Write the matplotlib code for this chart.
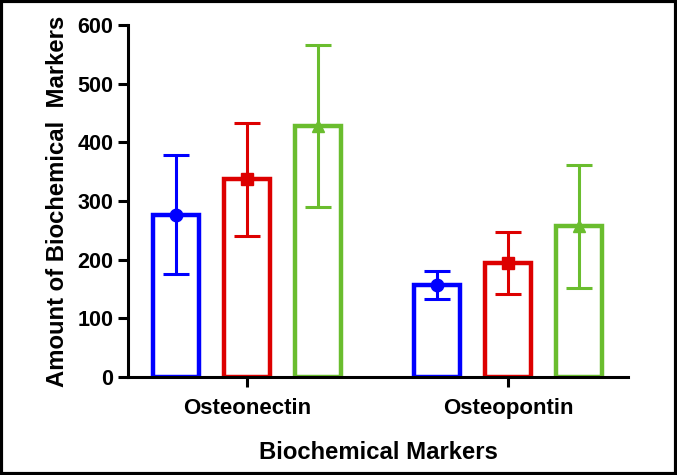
import matplotlib.pyplot as plt
import matplotlib.patches as mpatches
import numpy as np

plt.rcParams['font.family'] = ['Liberation Sans', 'DejaVu Sans']
plt.rcParams['font.weight'] = 'bold'

categories = ['Osteonectin', 'Osteopontin']
group_colors = ['#0000FF', '#DD0000', '#6ABD2E']
group_markers = ['o', 's', '^']
# one list per group: values for [Osteonectin, Osteopontin]
means = [[277, 157], [337, 194], [428, 257]]
errors = [[102, 24], [97, 53], [138, 105]]

fig = plt.figure(figsize=(6.77, 4.75), dpi=100)
ax = fig.add_axes([0.189, 0.206, 0.739, 0.741])

x = np.arange(len(categories))
offset = 0.272
width = 0.176
for i, (m, e) in enumerate(zip(means, errors)):
    pos = x + (i - 1) * offset
    ax.bar(pos, m, width=width, facecolor='none', edgecolor=group_colors[i],
           linewidth=3.2, zorder=2)
    ax.errorbar(pos, m, yerr=e, fmt=group_markers[i], color=group_colors[i],
                markersize=9, elinewidth=2.2, capsize=9.5, capthick=2.2, zorder=3)

ax.set_xlim(-0.456, 1.46)
ax.set_ylim(0, 600)
ax.set_yticks(range(0, 601, 100))
ax.set_xticks(x)
ax.set_xticklabels(categories)
ax.spines['top'].set_visible(False)
ax.spines['right'].set_visible(False)
ax.spines['left'].set_linewidth(2.2)
ax.spines['bottom'].set_linewidth(2.2)
ax.tick_params(axis='both', width=2.2, length=7, labelsize=15.5)
ax.tick_params(axis='x', labelsize=16, pad=8)
ax.set_ylabel('Amount of Biochemical  Markers', fontsize=17.2, fontweight='bold', labelpad=6)
ax.set_xlabel('Biochemical Markers', fontsize=17.2, fontweight='bold', labelpad=16)

# frame around the whole figure
fig.patches.append(mpatches.Rectangle((0.002, 0.003), 0.996, 0.994, transform=fig.transFigure,
                                      fill=False, edgecolor='black', linewidth=3))

fig.savefig('out.png', dpi=100)
